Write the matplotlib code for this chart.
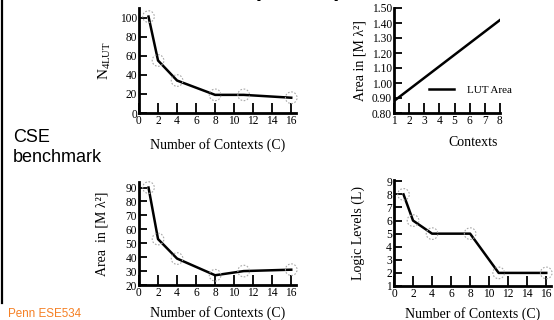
import matplotlib
matplotlib.use("Agg")
import matplotlib.pyplot as plt
from matplotlib.transforms import Bbox

# ---- data ----
contexts = [1, 2, 4, 8, 11, 16]
n4lut = [101, 55, 34, 19, 19, 16]
area_total = [90, 53, 39, 27, 30, 31]
logic_levels = [8, 6, 5, 5, 2, 2]

lut_contexts = [1, 8]
lut_area = [0.88, 1.42]

x_ticks16 = [0, 2, 4, 6, 8, 10, 12, 14, 16]
y_ticks_n4lut = [0, 20, 40, 60, 80, 100]
y_ticks_area = [20, 30, 40, 50, 60, 70, 80, 90]
y_ticks_levels = [1, 2, 3, 4, 5, 6, 7, 8, 9]
x_ticks_lut = [1, 2, 3, 4, 5, 6, 7, 8]
y_ticks_lut = [0.80, 0.90, 1.00, 1.10, 1.20, 1.30, 1.40, 1.50]

plt.rcParams['font.family'] = ['Liberation Serif', 'DejaVu Serif']
plt.rcParams['mathtext.fontset'] = 'custom'
plt.rcParams['mathtext.rm'] = 'Liberation Serif'
plt.rcParams['mathtext.it'] = 'Liberation Serif:italic'

W, H = 554, 320
fig = plt.figure(figsize=(W / 100, H / 100), dpi=100)


def make_ax(left, top, right, bottom):
    ax = fig.add_axes([left / W, 1 - bottom / H, (right - left) / W, (bottom - top) / H])
    for s in ['top', 'right']:
        ax.spines[s].set_visible(False)
    for s in ['left', 'bottom']:
        ax.spines[s].set_linewidth(2.0)
    ax.tick_params(direction='in', length=7, width=1.3, labelsize=8.3, pad=1.5)
    ax.tick_params(axis='y', length=6)
    ax.patch.set_alpha(0)
    return ax


def draw_series(ax, x, y):
    ax.plot(x, y, color='black', lw=1.8, zorder=3)
    ax.scatter(x, y, s=70, facecolors='none', edgecolors='#a8a8a8',
               linestyles=(0, (1.5, 1.5)), linewidths=0.8, zorder=4, clip_on=False)


label_fs = 10

# panel 1
ax1 = make_ax(139, 8, 296, 113)
draw_series(ax1, contexts, n4lut)
ax1.set_xlim(0, 16.5)
ax1.set_ylim(0, 110)
ax1.set_xticks(x_ticks16)
ax1.set_yticks(y_ticks_n4lut)
ax1.set_ylabel(r'$\mathrm{N}_{\mathrm{4LUT}}$', fontsize=label_fs + 1, labelpad=5)
ax1.set_xlabel('Number of Contexts (C)', fontsize=label_fs, labelpad=8)

# panel 2
ax2 = make_ax(394, 8, 500, 113)
ax2.plot(lut_contexts, lut_area, color='black', lw=1.8, label='LUT Area')
ax2.set_xlim(1, 8)
ax2.set_ylim(0.80, 1.50)
ax2.set_xticks(x_ticks_lut)
ax2.set_yticks(y_ticks_lut)
ax2.set_yticklabels(['%.2f' % v for v in y_ticks_lut])
ax2.set_ylabel('Area in [M λ²]', fontsize=label_fs, labelpad=4)
ax2.set_xlabel('Contexts', fontsize=label_fs, labelpad=5)
ax2.xaxis.set_label_coords(0.75, -0.22)
ax2.legend(loc='center left', bbox_to_anchor=(0.24, 0.22), frameon=False,
           fontsize=8, handlelength=2.2, handletextpad=1.2)

# panel 3
ax3 = make_ax(139, 182, 296, 285)
draw_series(ax3, contexts, area_total)
ax3.set_xlim(0, 16.5)
ax3.set_ylim(20, 94)
ax3.set_xticks(x_ticks16)
ax3.set_yticks(y_ticks_area)
ax3.set_ylabel('Area  in [M λ²]', fontsize=label_fs, labelpad=12)
ax3.set_xlabel('Number of Contexts (C)', fontsize=label_fs, labelpad=5)

# panel 4
ax4 = make_ax(394, 180, 551, 286)
draw_series(ax4, contexts, logic_levels)
ax4.set_xlim(0, 16.5)
ax4.set_ylim(1, 9.1)
ax4.set_xticks(x_ticks16)
ax4.set_yticks(y_ticks_levels)
ax4.set_ylabel('Logic Levels (L)', fontsize=label_fs, labelpad=15)
ax4.set_xlabel('Number of Contexts (C)', fontsize=label_fs, labelpad=5)

# slide decorations
fig.add_artist(plt.Line2D([2 / W, 2 / W], [1, 1 - 303 / H], color='black', lw=1.6))
fig.text(13 / W, 1 - 142 / H, 'CSE', fontsize=13, family='Liberation Sans', va='baseline')
fig.text(13 / W, 1 - 162 / H, 'benchmark', fontsize=13, family='Liberation Sans', va='baseline')
t = fig.text(8 / W, 1 - 317 / H, 'Penn ESE534 Spring', fontsize=8.4, family='Liberation Sans',
             color='#F58025', va='baseline')
t.set_clip_box(Bbox.from_extents(0, 0, 82, H))
t.set_clip_on(True)
fig.text(255 / W, 1 - 1 / H, '(', fontsize=26, family='Liberation Sans', va='bottom', ha='center')
fig.text(340 / W, 1 - 1 / H, ')', fontsize=26, family='Liberation Sans', va='bottom', ha='center')

fig.savefig('out.png', dpi=100)
